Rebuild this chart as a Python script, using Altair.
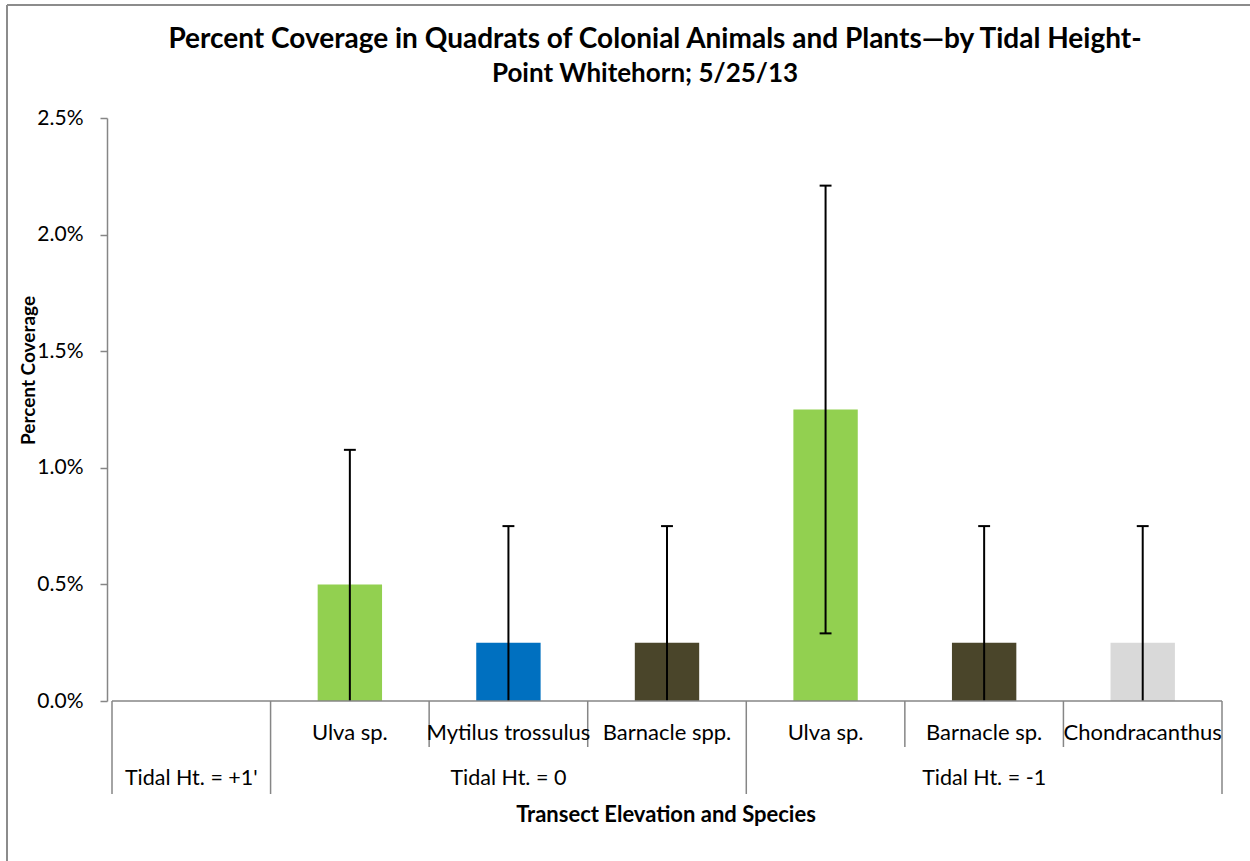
import altair as alt
import pandas as pd

# ---- data ----
species = ["", "Ulva sp.", "Mytilus trossulus", "Barnacle spp.", "Ulva sp.", "Barnacle sp.", "Chondracanthus"]
groups = ["Tidal Ht. = +1'", "Tidal Ht. = 0", "Tidal Ht. = -1"]
group_of_slot = [0, 1, 1, 1, 2, 2, 2]
means = [None, 0.005, 0.0025, 0.0025, 0.0125, 0.0025, 0.0025]
errors = [None, 0.00577, 0.005, 0.005, 0.0096, 0.005, 0.005]
colors = [None, "#92D050", "#0070C0", "#4A452A", "#92D050", "#4A452A", "#D9D9D9"]
y_ticks = [0, 0.005, 0.010, 0.015, 0.020, 0.025]
title_lines = ["Percent Coverage in Quadrats of Colonial Animals and Plants\u2014by Tidal Height-",
               "Point Whitehorn; 5/25/13"]

FONT = "Lato"
W, H = 1120, 583
NSLOT = len(species)
BAR_HALF = 0.203
CAP_HALF = 0.0375

rows = []
for i, (s, m, e, c) in enumerate(zip(species, means, errors, colors)):
    if m is None:
        continue
    rows.append(dict(slot=i, species=s, mean=m, zero=0.0, lo=m - e, hi=m + e, color=c,
                     x=i + 0.5, x0=i + 0.5 - BAR_HALF, x1=i + 0.5 + BAR_HALF,
                     c0=i + 0.5 - CAP_HALF, c1=i + 0.5 + CAP_HALF))
bars_df = pd.DataFrame(rows)

labels_df = pd.DataFrame([dict(x=i + 0.5, label=s) for i, s in enumerate(species) if s])

grp_rows = []
for g, name in enumerate(groups):
    slots = [i for i, gg in enumerate(group_of_slot) if gg == g]
    grp_rows.append(dict(x=(min(slots) + max(slots) + 1) / 2, label=name))
groups_df = pd.DataFrame(grp_rows)

long_edges, short_edges = [], []
for i in range(NSLOT + 1):
    if i == 0 or i == NSLOT or group_of_slot[i] != group_of_slot[i - 1]:
        long_edges.append(i)
    else:
        short_edges.append(i)
long_df = pd.DataFrame({"e": long_edges})
short_df = pd.DataFrame({"e": short_edges})

xs = alt.Scale(domain=[0, NSLOT], nice=False, zero=False)
ys = alt.Scale(domain=[0, 0.025], nice=False)

base = alt.Chart(bars_df)

bars = base.mark_bar(orient="vertical").encode(
    x=alt.X("x0:Q", scale=xs, axis=None),
    x2="x1:Q",
    y=alt.Y("mean:Q", scale=ys, axis=alt.Axis(
        values=y_ticks, format=".1%", grid=False,
        domainColor="#868686", domainWidth=1.5, tickColor="#868686", tickWidth=1.5, tickSize=7,
        labelFontSize=21, labelFont=FONT, labelColor="#000000", labelPadding=17,
        title="Percent Coverage", titleFont=FONT, titleFontSize=19, titleFontWeight="bold",
        titleColor="#000000", titleX=-79, titleY=252, titleAngle=-90,
        titleAlign="center", titleBaseline="middle")),
    y2="zero:Q",
    color=alt.Color("color:N", scale=None),
)

err = base.mark_rule(color="black", strokeWidth=2, clip=True).encode(
    x=alt.X("x:Q", scale=xs), y=alt.Y("lo:Q", scale=ys), y2="hi:Q")
cap_hi = base.mark_rule(color="black", strokeWidth=2, clip=True).encode(
    x=alt.X("c0:Q", scale=xs), x2="c1:Q", y=alt.Y("hi:Q", scale=ys))
cap_lo = base.mark_rule(color="black", strokeWidth=2, clip=True).encode(
    x=alt.X("c0:Q", scale=xs), x2="c1:Q", y=alt.Y("lo:Q", scale=ys))

baseline = alt.Chart(pd.DataFrame({"a": [0], "b": [NSLOT]})).mark_rule(
    color="#868686", strokeWidth=1.5).encode(
    x=alt.X("a:Q", scale=xs), x2="b:Q", y=alt.value(H))

long_div = alt.Chart(long_df).mark_rule(color="#868686", strokeWidth=1.5).encode(
    x=alt.X("e:Q", scale=xs), y=alt.value(H), y2=alt.value(H + 93))
short_div = alt.Chart(short_df).mark_rule(color="#868686", strokeWidth=1.5).encode(
    x=alt.X("e:Q", scale=xs), y=alt.value(H), y2=alt.value(H + 46))

sp_text = alt.Chart(labels_df).mark_text(
    font=FONT, fontSize=22, color="black", baseline="middle", align="center").encode(
    x=alt.X("x:Q", scale=xs), y=alt.value(615), text="label:N")
grp_text = alt.Chart(groups_df).mark_text(
    font=FONT, fontSize=21.5, color="black", baseline="middle", align="center").encode(
    x=alt.X("x:Q", scale=xs), y=alt.value(661), text="label:N")

xtitle = alt.Chart(pd.DataFrame({"t": ["Transect Elevation and Species"]})).mark_text(
    font=FONT, fontSize=22, fontWeight="bold", color="black", baseline="middle", align="center").encode(
    x=alt.value(559), y=alt.value(697), text="t:N")

title1 = alt.Chart(pd.DataFrame({"t": [title_lines[0]]})).mark_text(
    font=FONT, fontSize=28, fontWeight="bold", color="black", baseline="middle", align="center").encode(
    x=alt.value(548), y=alt.value(-78), text="t:N")
title2 = alt.Chart(pd.DataFrame({"t": [title_lines[1]]})).mark_text(
    font=FONT, fontSize=26, fontWeight="bold", color="black", baseline="middle", align="center").encode(
    x=alt.value(538), y=alt.value(-44), text="t:N")

frame_top = alt.Chart(pd.DataFrame({"a": [0]})).mark_rule(color="#8c8c8c", strokeWidth=2).encode(
    x=alt.value(-100), x2=alt.value(1200), y=alt.value(-113))
frame_left = alt.Chart(pd.DataFrame({"a": [0]})).mark_rule(color="#8c8c8c", strokeWidth=2).encode(
    x=alt.value(-100), y=alt.value(-113), y2=alt.value(800))

chart = alt.layer(
    frame_top, frame_left, bars, err, cap_hi, cap_lo, baseline, long_div, short_div,
    sp_text, grp_text, xtitle, title1, title2
).properties(
    width=W, height=H,
    background="white",
    autosize=alt.AutoSizeParams(type="none"),
    padding={"left": 107, "top": 118, "right": 23, "bottom": 160},
).configure_view(strokeWidth=0, stroke=None)

chart.save("out.html", embed_options={"renderer": "svg", "actions": False})
